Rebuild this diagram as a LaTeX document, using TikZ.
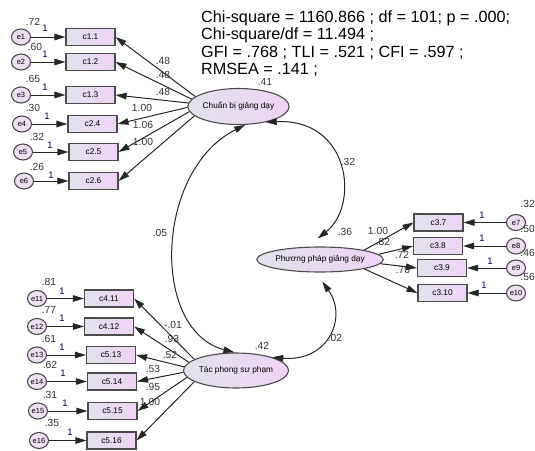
\documentclass[tikz,border=0pt]{standalone}
\usepackage{fontspec}
\setmainfont{Liberation Sans}
\usetikzlibrary{shapes.geometric, arrows.meta}

\definecolor{boxleft}{RGB}{226,226,236}
\definecolor{boxright}{RGB}{238,212,244}
\definecolor{errfill}{RGB}{238,224,242}

\begin{document}
\begin{tikzpicture}[x=1pt, y=-1pt,
    obsbox/.style={draw=black!70, line width=1.1pt, left color=boxleft, right color=boxright,
      minimum width=49pt, minimum height=17pt, inner sep=0pt, font=\fontsize{8.3}{9}\selectfont},
    errcirc/.style={ellipse, draw=black!70, line width=1.1pt, fill=errfill,
      minimum width=19pt, minimum height=16pt, inner sep=0pt, font=\fontsize{7.5}{8}\selectfont},
    latvar/.style={ellipse, draw=black!70, line width=1.1pt, left color=boxleft, right color=boxright,
      minimum width=97pt, minimum height=36pt, inner sep=0pt, font=\fontsize{8.3}{9}\selectfont},
    regarrow/.style={-{Triangle[length=11pt,width=6.5pt]}, line width=1pt, black!85},
    covarrow/.style={{Triangle[length=11pt,width=6.5pt]}-{Triangle[length=11pt,width=6.5pt]}, line width=1pt, black!85},
    estlabel/.style={inner sep=0pt, font=\fontsize{10.3}{11}\selectfont, text=black!80},
    onelabel/.style={inner sep=0pt, font=\fontsize{9.5}{10}\selectfont, text=blue!40!black},
  ]
  \useasboundingbox (0,0) rectangle (535,450);

  % Fit indices
  \node[anchor=north west, align=left, inner sep=0pt, font=\fontsize{16.2}{17.5}\selectfont] (fit) at (201,10.5)
    {Chi-square = 1160.866 ; df = 101; p = .000;\\Chi-square/df = 11.494 ;\\GFI = .768 ; TLI = .521 ; CFI = .597 ;\\RMSEA = .141 ;};

  % Chuan bi giang day
  \node[latvar] (chuan) at (238.5,106.5) {Chuẩn bị giảng dạy};
  \node[estlabel] (vchuan) at (265,82) {.41};

  \node[errcirc] (e1) at (21,37) {e1};
  \node[obsbox] (c11) at (90.5,37) {c1.1};
  \node[errcirc] (e2) at (21,62) {e2};
  \node[obsbox] (c12) at (90.5,62) {c1.2};
  \node[errcirc] (e3) at (21,95) {e3};
  \node[obsbox] (c13) at (90.5,95) {c1.3};
  \node[errcirc] (e4) at (22,124) {e4};
  \node[obsbox] (c24) at (92.5,124) {c2.4};
  \node[errcirc] (e5) at (23,152) {e5};
  \node[obsbox] (c25) at (93.5,152) {c2.5};
  \node[errcirc] (e6) at (24,181) {e6};
  \node[obsbox] (c26) at (93.5,181) {c2.6};

  \draw[regarrow] (e1) -- (c11);
  \draw[regarrow] (e2) -- (c12);
  \draw[regarrow] (e3) -- (c13);
  \draw[regarrow] (e4) -- (c24);
  \draw[regarrow] (e5) -- (c25);
  \draw[regarrow] (e6) -- (c26);
  \draw[regarrow] (chuan.167) -- (c11.east);
  \draw[regarrow] (chuan.171) -- (c12.east);
  \draw[regarrow] (chuan.176) -- (c13.east);
  \draw[regarrow] (chuan.181) -- (c24.east);
  \draw[regarrow] (chuan.186) -- (c25.east);
  \draw[regarrow] (chuan.192) -- (c26.east);

  \node[estlabel] (ve1) at (33,22) {.72};
  \node[estlabel] (ve2) at (35,47) {.60};
  \node[estlabel] (ve3) at (33,79) {.65};
  \node[estlabel] (ve4) at (33,108) {.30};
  \node[estlabel] (ve5) at (37,137) {.32};
  \node[estlabel] (ve6) at (37,167) {.26};
  \node[onelabel] (w1) at (45,28) {1};
  \node[onelabel] (w2) at (45,54) {1};
  \node[onelabel] (w3) at (45,87) {1};
  \node[onelabel] (w4) at (47,116) {1};
  \node[onelabel] (w5) at (50,145) {1};
  \node[onelabel] (w6) at (51,175) {1};
  \node[estlabel] (l11) at (163,61) {.48};
  \node[estlabel] (l12) at (163,75) {.48};
  \node[estlabel] (l13) at (163,92) {.48};
  \node[estlabel] (l24) at (142,108) {1.00};
  \node[estlabel] (l25) at (143,125) {1.06};
  \node[estlabel] (l26) at (143,142) {1.00};

  % Phuong phap giang day
  \node[latvar, minimum width=96pt, minimum height=25pt] (pp) at (320,259.5) {Phương pháp giảng dạy};
  \node[estlabel] (vpp) at (345,232) {.36};

  \node[estlabel, anchor=east] (ve7) at (535,204) {.32};
  \node[estlabel, anchor=east] (ve8) at (535,229) {.50};
  \node[estlabel, anchor=east] (ve9) at (535,253) {.46};
  \node[estlabel, anchor=east] (ve10) at (535,277) {.56};

  \node[obsbox] (c37) at (438.5,222.5) {c3.7};
  \node[errcirc] (e7) at (516,222.5) {e7};
  \node[obsbox] (c38) at (438,246) {c3.8};
  \node[errcirc] (e8) at (516,246) {e8};
  \node[obsbox] (c39) at (442,268) {c3.9};
  \node[errcirc] (e9) at (516,268) {e9};
  \node[obsbox] (c310) at (442.5,293) {c3.10};
  \node[errcirc] (e10) at (516,293) {e10};

  \draw[regarrow] (e7) -- (c37);
  \draw[regarrow] (e8) -- (c38);
  \draw[regarrow] (e9) -- (c39);
  \draw[regarrow] (e10) -- (c310);
  \draw[regarrow] (pp.12) -- (c37.west);
  \draw[regarrow] (pp.5) -- (c38.west);
  \draw[regarrow] (pp.-4) -- (c39.west);
  \draw[regarrow] (pp.-12) -- (c310.west);

  \node[onelabel] (w7) at (482,215) {1};
  \node[onelabel] (w8) at (482,238) {1};
  \node[onelabel] (w9) at (490,261) {1};
  \node[onelabel] (w10) at (484,285) {1};
  \node[estlabel] (l37) at (378,231) {1.00};
  \node[estlabel] (l38) at (383,242) {.82};
  \node[estlabel] (l39) at (402,255) {.72};
  \node[estlabel] (l310) at (403,270) {.70};

  % Tac phong su pham
  \node[latvar, minimum height=35pt] (tac) at (236,370.5) {Tác phong sư phạm};
  \node[estlabel] (vtac) at (262,346) {.42};

  \node[errcirc] (e11) at (37,298.5) {e11};
  \node[obsbox] (c411) at (109,298.5) {c4.11};
  \node[errcirc] (e12) at (37,326.5) {e12};
  \node[obsbox] (c412) at (109,326.5) {c4.12};
  \node[errcirc] (e13) at (37,355) {e13};
  \node[obsbox] (c513) at (111,355) {c5.13};
  \node[errcirc] (e14) at (37,381.5) {e14};
  \node[obsbox] (c514) at (112,381.5) {c5.14};
  \node[errcirc] (e15) at (38,411) {e15};
  \node[obsbox] (c515) at (112.5,411) {c5.15};
  \node[errcirc] (e16) at (39,440.5) {e16};
  \node[obsbox] (c516) at (111.5,440.5) {c5.16};

  \draw[regarrow] (e11) -- (c411);
  \draw[regarrow] (e12) -- (c412);
  \draw[regarrow] (e13) -- (c513);
  \draw[regarrow] (e14) -- (c514);
  \draw[regarrow] (e15) -- (c515);
  \draw[regarrow] (e16) -- (c516);
  \draw[regarrow] (tac.165) -- (c411.east);
  \draw[regarrow] (tac.170) -- (c412.east);
  \draw[regarrow] (tac.176) -- (c513.east);
  \draw[regarrow] (tac.182) -- (c514.east);
  \draw[regarrow] (tac.188) -- (c515.east);
  \draw[regarrow] (tac.195) -- (c516.east);

  \node[estlabel] (ve11) at (49,282) {.81};
  \node[estlabel] (ve12) at (49,310) {.77};
  \node[estlabel] (ve13) at (49,339) {.61};
  \node[estlabel] (ve14) at (50,365) {.62};
  \node[estlabel] (ve15) at (50,395) {.31};
  \node[estlabel] (ve16) at (52,423) {.35};
  \node[onelabel] (w11) at (62,291) {1};
  \node[onelabel] (w12) at (62,318) {1};
  \node[onelabel] (w13) at (62,347) {1};
  \node[onelabel] (w14) at (63,373) {1};
  \node[onelabel] (w15) at (65,403) {1};
  \node[onelabel] (w16) at (70,432) {1};
  \node[estlabel] (l411) at (173,325) {-.01};
  \node[estlabel] (l412) at (172,339) {.93};
  \node[estlabel] (l513) at (170,355) {.52};
  \node[estlabel] (l514) at (153,369) {.53};
  \node[estlabel] (l515) at (153,387) {.95};
  \node[estlabel] (l516) at (150,402) {1.00};

  % Kovarianzen
  \draw[covarrow] (chuan.290) .. controls (155,170) and (150,330) .. (tac.95);
  \draw[covarrow] (chuan.330) .. controls (350,118) and (360,205) .. ([yshift=8pt]pp.100);
  \draw[covarrow] ([yshift=-9pt]pp.-80) .. controls (348,318) and (328,362) .. (tac.20);
  \node[estlabel] (k1) at (160,233) {.05};
  \node[estlabel] (k2) at (348,162) {.32};
  \node[estlabel] (k3) at (335,338) {.02};
\end{tikzpicture}
\end{document}
